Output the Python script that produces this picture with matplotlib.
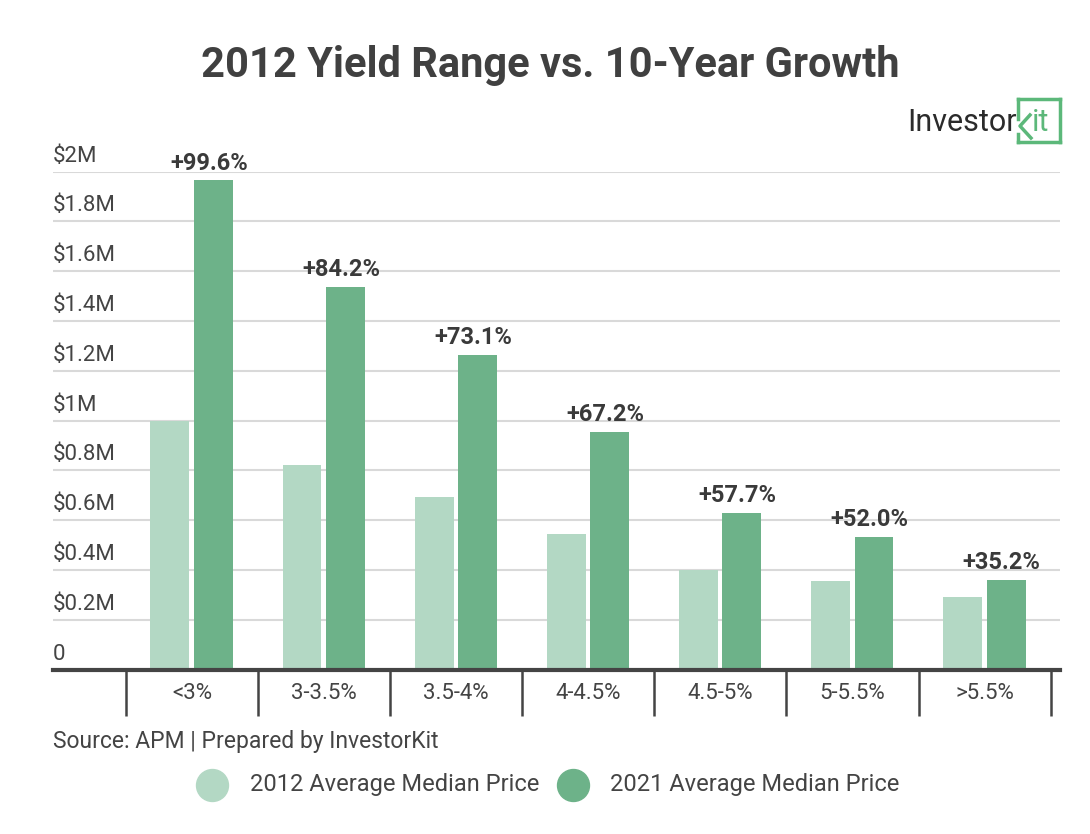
import matplotlib.pyplot as plt
import matplotlib.lines as mlines
import matplotlib.transforms as mtransforms
import numpy as np

plt.rcParams['font.family'] = ['Roboto', 'DejaVu Sans']

# data (values in $M)
categories = ['<3%', '3-3.5%', '3.5-4%', '4-4.5%', '4.5-5%', '5-5.5%', '>5.5%']
price_2012 = [1.00, 0.82, 0.694, 0.543, 0.40, 0.354, 0.29]
price_2021 = [1.965, 1.538, 1.264, 0.956, 0.629, 0.534, 0.361]
growth_labels = ['+99.6%', '+84.2%', '+73.1%', '+67.2%', '+57.7%', '+52.0%', '+35.2%']
y_ticks = [0, 0.2, 0.4, 0.6, 0.8, 1.0, 1.2, 1.4, 1.6, 1.8, 2.0]
y_tick_labels = ['0', '$0.2M', '$0.4M', '$0.6M', '$0.8M', '$1M', '$1.2M',
                 '$1.4M', '$1.6M', '$1.8M', '$2M']
series_names = ['2012 Average Median Price', '2021 Average Median Price']

light_green = '#b3d8c4'
dark_green = '#6db289'
text_col = '#444444'
W, H = 1090, 834

def fx(x):
    return x / W

def fy(y):
    return 1 - y / H

fig = plt.figure(figsize=(W / 100, H / 100), dpi=100)
ax = fig.add_axes([fx(53), fy(669.5), fx(1060) - fx(53), fy(171.7) - fy(669.5)])

x = np.arange(len(categories))
bw = 0.295
ax.bar(x - 0.167, price_2012, bw, color=light_green, zorder=2)
ax.bar(x + 0.163, price_2021, bw, color=dark_green, zorder=2)

ax.set_xlim(-1.052, 6.571)
ax.set_ylim(0, 2.0)

# gridlines + y labels sitting above them
for v, lab in zip(y_ticks, y_tick_labels):
    if v > 0:
        ax.axhline(v, color='#d9d9d9', lw=1.5, zorder=1)
    off = mtransforms.offset_copy(ax.get_yaxis_transform(), fig=fig, x=0, y=5, units='dots')
    ax.text(0, v, lab, transform=off, ha='left', va='bottom', fontsize=16, color=text_col)

# growth annotations above 2021 bars
for i, (v, g) in enumerate(zip(price_2021, growth_labels)):
    ax.annotate(g, (x[i] + 0.13, v), xytext=(0, 4), textcoords='offset points',
                ha='center', va='bottom', fontsize=17, fontweight='bold',
                color='#3a3a3a', annotation_clip=False)

for s in ['top', 'right', 'left']:
    ax.spines[s].set_visible(False)
ax.spines['bottom'].set_color(text_col)
ax.spines['bottom'].set_linewidth(3)
ax.spines['bottom'].set_zorder(3)
ax.set_yticks([])

# category separators as major ticks, labels as minor ticks
bounds = np.arange(len(categories) + 1) - 0.5
ax.set_xticks(bounds)
ax.set_xticklabels([])
ax.tick_params(axis='x', which='major', length=33, width=1.8, color=text_col, direction='out')
ax.set_xticks(x, minor=True)
ax.set_xticklabels(categories, minor=True, fontsize=16, color=text_col)
ax.tick_params(axis='x', which='minor', length=0, pad=10)

# title
fig.text(0.5046, fy(77), '2012 Yield Range vs. 10-Year Growth', ha='center', va='baseline',
         fontsize=30, fontweight='bold', color='#404040')

# logo
fig.text(fx(907), fy(131), 'Investor', ha='left', va='baseline', fontsize=22,
         color='#2b2b2b')
logo_green = '#5cb87a'
for xs, ys in [([1018, 1060], [99, 99]), ([1060, 1060], [99, 142]),
               ([1018, 1060], [142, 142]), ([1018, 1018], [99, 119]),
               ([1018, 1018], [134, 142]), ([1030, 1020, 1031], [115, 126, 138])]:
    fig.add_artist(mlines.Line2D([fx(v) for v in xs], [fy(v) for v in ys],
                                 color=logo_green, lw=2.5))
fig.text(fx(1032), fy(131), 'it', ha='left', va='baseline', fontsize=22,
         color=logo_green)

# source
fig.text(fx(53), fy(748), 'Source: APM | Prepared by InvestorKit', ha='left', va='baseline',
         fontsize=16.5, color=text_col)

# legend
for cx, tx, col, name in [(212, 250, light_green, series_names[0]),
                          (573, 610, dark_green, series_names[1])]:
    fig.add_artist(mlines.Line2D([fx(cx)], [fy(785)], marker='o', markersize=23,
                                 color=col, lw=0))
    fig.text(fx(tx), fy(785), name, ha='left', va='center', fontsize=17, color=text_col)

fig.savefig('out.png', dpi=100, facecolor='white')
